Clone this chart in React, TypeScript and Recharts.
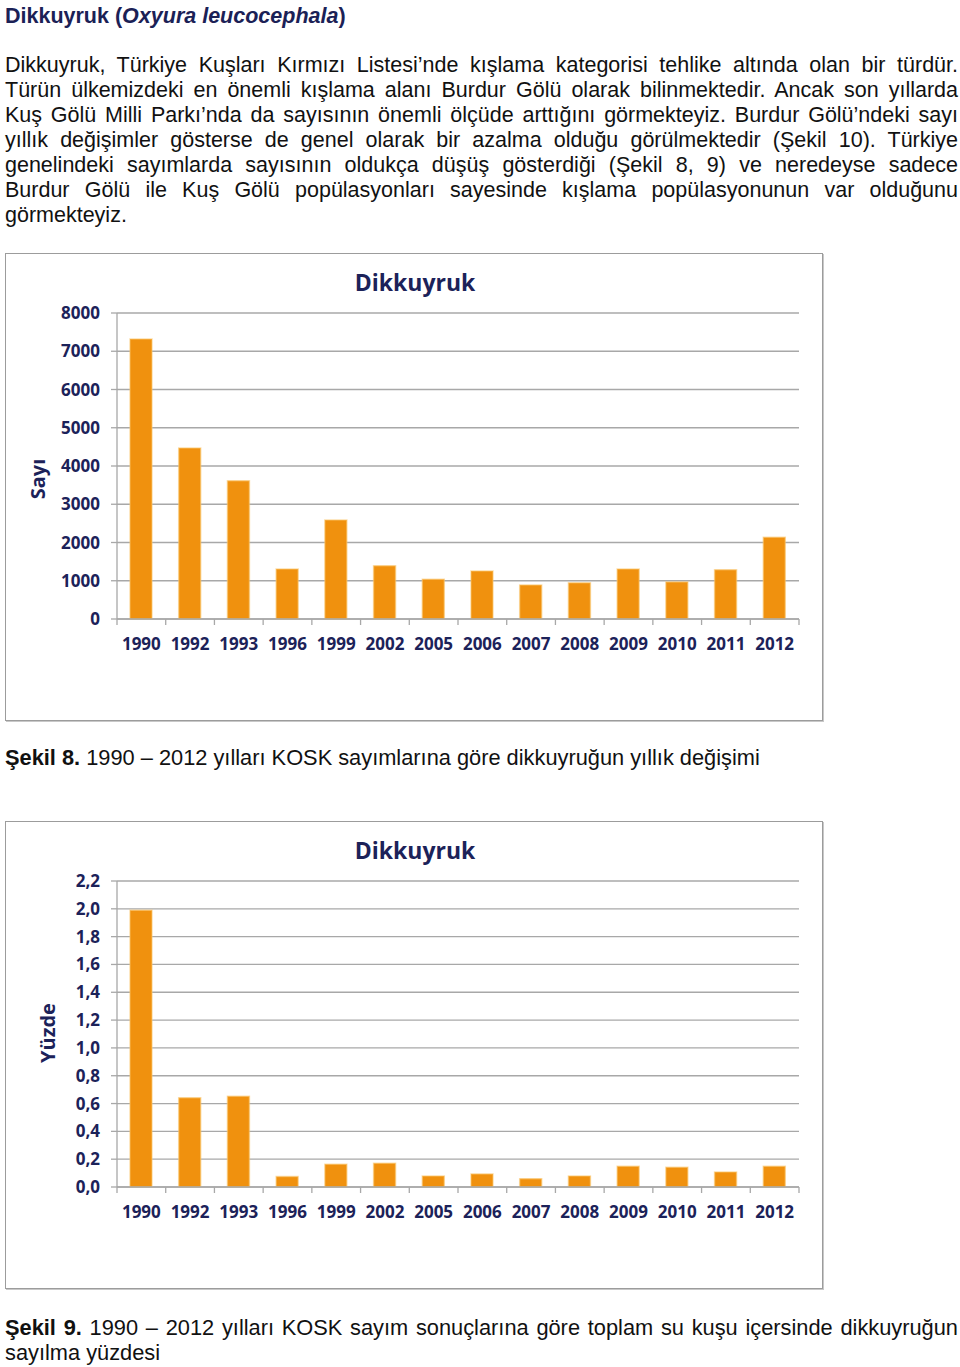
import React from 'react';
import { BarChart, Bar, XAxis, YAxis, CartesianGrid, Label } from 'recharts';

const years = ['1990', '1992', '1993', '1996', '1999', '2002', '2005', '2006', '2007', '2008', '2009', '2010', '2011', '2012'];
const counts = [7320, 4470, 3615, 1310, 2585, 1390, 1040, 1257, 890, 945, 1310, 970, 1285, 2140];
const percents = [1.99, 0.642, 0.652, 0.075, 0.164, 0.171, 0.079, 0.094, 0.06, 0.079, 0.149, 0.142, 0.108, 0.149];
const countTicks = [0, 1000, 2000, 3000, 4000, 5000, 6000, 7000, 8000];
const percentTicks = [0, 0.2, 0.4, 0.6, 0.8, 1.0, 1.2, 1.4, 1.6, 1.8, 2.0, 2.2];

const countData = years.map((y, i) => ({ year: y, value: counts[i] }));
const percentData = years.map((y, i) => ({ year: y, value: percents[i] }));

const NAVY = '#1C2259';
const GRID = '#A8A8A8';
const BAR = '#F0910E';
const CHART_W = 816;
const CHART_H = 466;
const Y_W = 111;
const M_RIGHT = 23;
const PLOT_W = CHART_W - Y_W - M_RIGHT;
const STEP = PLOT_W / years.length;
const CHART_FONT = '"Open Sans", "Noto Sans", sans-serif';
const TEXT_FONT = '"Liberation Sans", Arial, sans-serif';

function YearTick(props: any) {
  const { x, y, payload, index } = props;
  return (
    <g>
      <line x1={x - STEP / 2} x2={x - STEP / 2} y1={y} y2={y + 6} stroke={GRID} strokeWidth={1.3} />
      {index === years.length - 1 && (
        <line x1={x + STEP / 2} x2={x + STEP / 2} y1={y} y2={y + 6} stroke={GRID} strokeWidth={1.3} />
      )}
      <text x={x} y={y + 24} textAnchor="middle" dominantBaseline="central" fill={NAVY}
        style={{ fontFamily: CHART_FONT, fontWeight: 700, fontSize: 17 }}>
        {payload.value}
      </text>
    </g>
  );
}

type BoxProps = {
  top: number;
  data: { year: string; value: number }[];
  ticks: number[];
  domain: [number, number];
  fmt: (v: number) => string;
  yLabel: string;
  labelX: number;
  labelY: number;
};

function ChartBox({ top, data, ticks, domain, fmt, yLabel, labelX, labelY }: BoxProps) {
  return (
    <div style={{
      position: 'absolute', left: 5, top, width: CHART_W, height: CHART_H,
      border: '1px solid #9C9C9C', boxShadow: '1px 1px 0 #C8C8C8', background: '#fff',
    }}>
      <div style={{
        position: 'absolute', left: 0, width: 818, top: 12, textAlign: 'center',
        fontFamily: CHART_FONT, fontWeight: 700, fontSize: 23, color: NAVY, lineHeight: '32px',
      }}>Dikkuyruk</div>
      <BarChart width={CHART_W} height={CHART_H} data={data}
        margin={{ top: 59, right: M_RIGHT, bottom: 61, left: 0 }}>
        <CartesianGrid vertical={false} stroke={GRID} strokeWidth={1.3} />
        <XAxis dataKey="year" height={40} tickSize={0} tickMargin={0} tickLine={false}
          axisLine={{ stroke: GRID, strokeWidth: 1.3 }} tick={<YearTick />} interval={0} />
        <YAxis width={Y_W} domain={domain} ticks={ticks} interval={0} tickSize={6} tickMargin={11}
          tickFormatter={fmt} axisLine={{ stroke: GRID, strokeWidth: 1.3 }}
          tickLine={{ stroke: GRID, strokeWidth: 1.3 }}
          tick={{ fill: NAVY, fontFamily: CHART_FONT, fontWeight: 700, fontSize: 17 }}>
          <Label content={() => (
            <text x={labelX} y={labelY} textAnchor="middle" dominantBaseline="central"
              transform={`rotate(-90 ${labelX} ${labelY})`} fill={NAVY}
              style={{ fontFamily: CHART_FONT, fontWeight: 700, fontSize: 20 }}>{yLabel}</text>
          )} />
        </YAxis>
        <Bar dataKey="value" fill={BAR} barSize={22} isAnimationActive={false}
          stroke="#F9C56A" strokeOpacity={0.55} strokeWidth={1.5} />
      </BarChart>
    </div>
  );
}

const paraLines = [
  'Dikkuyruk, Türkiye Kuşları Kırmızı Listesi’nde kışlama kategorisi tehlike altında olan bir türdür.',
  'Türün ülkemizdeki en önemli kışlama alanı Burdur Gölü olarak bilinmektedir. Ancak son yıllarda',
  'Kuş Gölü Milli Parkı’nda da sayısının önemli ölçüde arttığını görmekteyiz. Burdur Gölü’ndeki sayı',
  'yıllık değişimler gösterse de genel olarak bir azalma olduğu görülmektedir (Şekil 10). Türkiye',
  'genelindeki sayımlarda sayısının oldukça düşüş gösterdiği (Şekil 8, 9) ve neredeyse sadece',
  'Burdur Gölü ile Kuş Gölü popülasyonları sayesinde kışlama popülasyonunun var olduğunu',
];
const paraLast = 'görmekteyiz.';

const lineStyle = (top: number, justify: boolean, size = 21.5): React.CSSProperties => ({
  position: 'absolute', left: 5, top, width: 953, height: 25, lineHeight: '25px',
  fontFamily: TEXT_FONT, fontSize: size, color: '#111',
  whiteSpace: 'nowrap', textAlign: justify ? 'justify' : 'left',
  textAlignLast: justify ? 'justify' : 'left',
});

const commaFmt = (v: number) => v.toFixed(1).replace('.', ',');

export default function App() {
  return (
    <div style={{ position: 'absolute', left: 0, top: 0, width: 960, height: 1367, background: '#fff' }}>
      <div style={{ position: 'absolute', left: 5, top: 3, lineHeight: '26px', fontFamily: TEXT_FONT,
        fontSize: 21.5, fontWeight: 700, color: '#1B2156', whiteSpace: 'nowrap' }}>
        Dikkuyruk (<i>Oxyura leucocephala</i>)
      </div>
      {paraLines.map((l, i) => (
        <div key={i} style={{ ...lineStyle(53 + i * 25, true), whiteSpace: 'normal' }}>{l}</div>
      ))}
      <div style={lineStyle(53 + 6 * 25, false)}>{paraLast}</div>

      <ChartBox top={253} data={countData} ticks={countTicks} domain={[0, 8000]}
        fmt={(v) => String(v)} yLabel="Sayı" labelX={31} labelY={225} />

      <div style={lineStyle(745, false, 21.8)}><b>Şekil 8.</b> 1990 – 2012 yılları KOSK sayımlarına göre dikkuyruğun yıllık değişimi</div>

      <ChartBox top={821} data={percentData} ticks={percentTicks} domain={[0, 2.2]}
        fmt={commaFmt} yLabel="Yüzde" labelX={41} labelY={211} />

      <div style={{ ...lineStyle(1315, true, 21.8), whiteSpace: 'normal' }}><b>Şekil 9.</b> 1990 – 2012 yılları KOSK sayım sonuçlarına göre toplam su kuşu içersinde dikkuyruğun</div>
      <div style={lineStyle(1340, false, 21.8)}>sayılma yüzdesi</div>
    </div>
  );
}
